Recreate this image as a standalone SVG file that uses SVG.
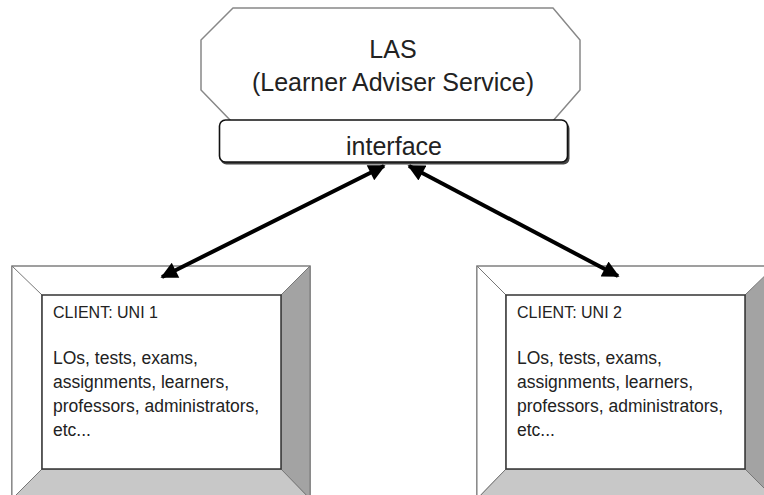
<svg xmlns="http://www.w3.org/2000/svg" width="764" height="495" viewBox="0 0 764 495">
  <style>
    .txt { font-family: "Liberation Sans", Arial, sans-serif; fill: #222; }
    .big { font-size: 25px; text-anchor: middle; }
    .title { font-size: 16px; }
    .body { font-size: 17.5px; }
    .outer { fill: #ffffff; stroke: #808080; stroke-width: 1.5; }
    .bev-r { fill: #a3a3a3; stroke: #777; stroke-width: 1; }
    .bev-b { fill: #c8c8c8; stroke: #777; stroke-width: 1; }
    .bev-l { fill: #ffffff; stroke: #777; stroke-width: 1; }
    .inner { fill: #ffffff; stroke: #333; stroke-width: 1.5; }
    .link { stroke: #000; stroke-width: 4; fill: none; marker-start: url(#head); marker-end: url(#head); }
  </style>
  <defs>
    <marker id="head" viewBox="0 0 10 10" refX="9" refY="5" markerWidth="4.4" markerHeight="4.2" markerUnits="strokeWidth" orient="auto-start-reverse">
      <path d="M0,0 L10,5 L0,10 z" fill="#000"/>
    </marker>
  </defs>
  <rect width="764" height="495" fill="#ffffff"/>

  <g id="las">
    <polygon points="233,8 553,8 580,40 580,90 552,122 232,122 201,90 201,40" fill="#ffffff" stroke="#888" stroke-width="1.5"/>
    <text class="txt big" x="393" y="58">LAS</text>
    <text class="txt big" x="393" y="91">(Learner Adviser Service)</text>
  </g>

  <g id="interface">
    <rect x="220.5" y="122.5" width="349" height="42" rx="6" fill="#444"/>
    <rect x="219.5" y="120" width="348" height="42" rx="6" fill="#ffffff" stroke="#111" stroke-width="1.6"/>
    <text class="txt big" x="394" y="155">interface</text>
  </g>

  <g id="client1">
    <rect class="outer" x="12" y="266" width="298" height="240"/>
    <polygon class="bev-l" points="12,266 42,295 42,469 12,499"/>
    <polygon class="bev-r" points="310,266 281,295 281,469 310,499"/>
    <polygon class="bev-b" points="42,469 281,469 310,499 12,499"/>
    <rect class="inner" x="42" y="295" width="239" height="174"/>
    <text class="txt title" x="53" y="318">CLIENT: UNI 1</text>
    <text class="txt body" x="53" y="364">LOs, tests, exams,</text>
    <text class="txt body" x="53" y="388">assignments,  learners,</text>
    <text class="txt body" x="53" y="412">professors, administrators,</text>
    <text class="txt body" x="53" y="436">etc...</text>
  </g>

  <g id="client2">
    <rect class="outer" x="477" y="266" width="298" height="240"/>
    <polygon class="bev-l" points="477,266 506,295 506,469 477,499"/>
    <polygon class="bev-r" points="775,266 745,295 745,469 775,499"/>
    <polygon class="bev-b" points="506,469 745,469 775,499 477,499"/>
    <rect class="inner" x="506" y="295" width="239" height="174"/>
    <text class="txt title" x="517" y="318">CLIENT: UNI 2</text>
    <text class="txt body" x="517" y="364">LOs, tests, exams,</text>
    <text class="txt body" x="517" y="388">assignments,  learners,</text>
    <text class="txt body" x="517" y="412">professors, administrators,</text>
    <text class="txt body" x="517" y="436">etc...</text>
  </g>

  <g id="connectors">
    <line class="link" x1="384" y1="166" x2="162" y2="277"/>
    <line class="link" x1="409" y1="166" x2="618" y2="276"/>
  </g>
</svg>
